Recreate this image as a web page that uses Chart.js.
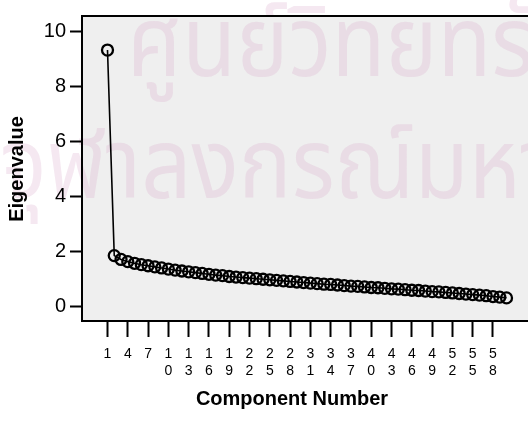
<!DOCTYPE html>
<html>
<head>
<meta charset="utf-8">
<script src="https://cdn.jsdelivr.net/npm/chart.js@4.4.1/dist/chart.umd.min.js"></script>
<style>
html,body{margin:0;padding:0;background:#fff;overflow:hidden;}
#wrap{width:540px;height:425px;}
</style>
</head>
<body>
<div id="wrap"><canvas id="c" width="540" height="425"></canvas></div>
<script>
const components = Array.from({length: 60}, (_, i) => i + 1);
const eigenvalues = [
  9.32, 1.84, 1.70, 1.62, 1.56, 1.51, 1.47, 1.43, 1.39, 1.35,
  1.31, 1.28, 1.25, 1.22, 1.19, 1.16, 1.13, 1.11, 1.08, 1.06,
  1.04, 1.02, 1.00, 0.98, 0.96, 0.94, 0.92, 0.90, 0.88, 0.86,
  0.84, 0.82, 0.80, 0.79, 0.77, 0.75, 0.73, 0.72, 0.70, 0.68,
  0.67, 0.65, 0.63, 0.62, 0.60, 0.58, 0.57, 0.55, 0.53, 0.52,
  0.50, 0.48, 0.46, 0.44, 0.42, 0.40, 0.38, 0.35, 0.33, 0.30
];
const xTickValues = [1,4,7,10,13,16,19,22,25,28,31,34,37,40,43,46,49,52,55,58];
const yTickValues = [0,2,4,6,8,10];
const xTitle = 'Component Number';
const yTitle = 'Eigenvalue';
const watermark1 = 'ศูนย์วิทยทรัพยากร';
const watermark2 = 'จุฬาลงกรณ์มหาวิทยาลัย';

const FONT = '"Liberation Sans", Arial, sans-serif';

const framePlugin = {
  id: 'frame',
  beforeDraw(chart) {
    const {ctx, chartArea: a} = chart;
    ctx.save();
    ctx.fillStyle = '#efefef';
    ctx.fillRect(a.left, a.top, a.right - a.left, a.bottom - a.top);
    ctx.fillStyle = 'rgba(215,165,200,0.26)';
    ctx.font = '88px "Noto Sans Thai", "Loma", "Garuda", "Noto Sans", sans-serif';
    ctx.textBaseline = 'alphabetic';
    ctx.save();
    ctx.translate(127, 76);
    ctx.scale(1, 1.12);
    ctx.fillText(watermark1, 0, 0);
    ctx.restore();
    ctx.save();
    ctx.translate(0, 198);
    ctx.scale(1, 1.12);
    ctx.fillText(watermark2, 0, 0);
    ctx.restore();
    ctx.restore();
  },
  afterDraw(chart) {
    const {ctx, chartArea: a} = chart;
    ctx.save();
    ctx.strokeStyle = '#000';
    ctx.lineWidth = 2;
    ctx.strokeRect(a.left, a.top, a.right - a.left, a.bottom - a.top);
    ctx.fillStyle = '#000';
    ctx.font = 'bold 20px ' + FONT;
    ctx.textAlign = 'center';
    ctx.textBaseline = 'middle';
    ctx.fillText(xTitle, 292, 399);
    ctx.translate(17, 169);
    ctx.rotate(-Math.PI / 2);
    ctx.fillText(yTitle, 0, 0);
    ctx.restore();
  }
};

new Chart(document.getElementById('c'), {
  type: 'line',
  data: {
    datasets: [{
      data: components.map((c, i) => ({x: c, y: eigenvalues[i]})),
      borderColor: '#000',
      borderWidth: 1.6,
      pointRadius: 5.5,
      pointBorderWidth: 2.3,
      pointBorderColor: '#000',
      pointBackgroundColor: 'rgba(0,0,0,0)',
      tension: 0,
      clip: false
    }]
  },
  options: {
    responsive: false,
    animation: false,
    layout: {padding: {top: 13, right: 8, left: 0, bottom: 0}},
    plugins: {legend: {display: false}, tooltip: {enabled: false}},
    scales: {
      x: {
        type: 'linear',
        min: -2.77,
        max: 63.77,
        afterBuildTicks(s) { s.ticks = xTickValues.map(v => ({value: v})); },
        afterFit(s) { s.height = 104; },
        grid: {drawOnChartArea: false, drawTicks: true, tickLength: 16, tickWidth: 2, tickColor: '#000'},
        border: {display: true, color: '#000', width: 2},
        ticks: {
          autoSkip: false,
          maxRotation: 0,
          minRotation: 0,
          padding: 9,
          color: '#000',
          font: {family: FONT, size: 14, lineHeight: 1.2},
          callback: v => String(v).split('')
        }
      },
      y: {
        min: -0.54,
        max: 10.56,
        afterBuildTicks(s) { s.ticks = yTickValues.map(v => ({value: v})); },
        afterFit(s) { s.width = 82; },
        grid: {drawOnChartArea: false, drawTicks: true, tickLength: 12, tickWidth: 2, tickColor: '#000'},
        border: {display: true, color: '#000', width: 2},
        ticks: {
          padding: 4,
          color: '#000',
          font: {family: FONT, size: 20},
          callback: v => String(v)
        }
      }
    }
  },
  plugins: [framePlugin]
});
</script>
</body>
</html>
